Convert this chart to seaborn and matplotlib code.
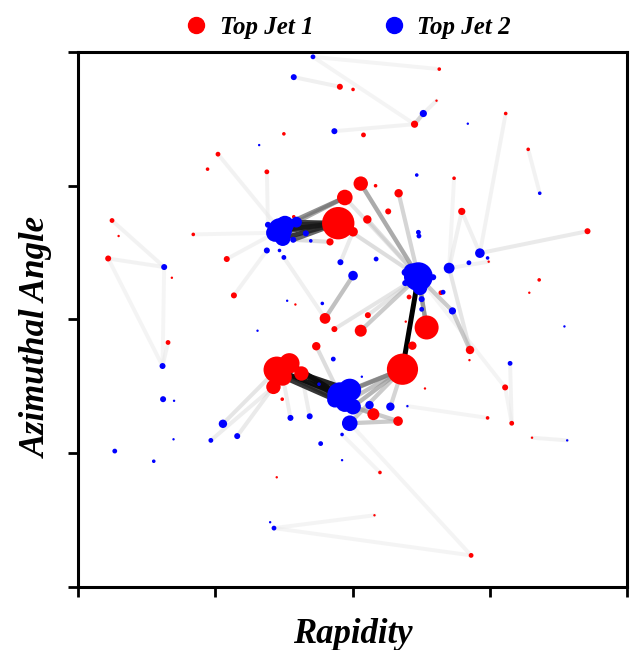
import numpy as np
import pandas as pd
import matplotlib
matplotlib.use("Agg")
import matplotlib.pyplot as plt
from matplotlib.lines import Line2D
import seaborn as sns

# Jet constituents: rapidity / azimuth on a 0-100 scale, pt ~ marker diameter (px)
red_rap = [47.7, 50.1, 37.5, 25.5, 23.6, 34.4, 51.5, 48.6, 47.4, 50.1, 45.9, 39.3, 6.2, 7.4, 21.0, 5.5,
           17.1, 27.1, 28.4, 39.6, 45.0, 65.8, 65.3, 61.3, 77.9, 82.0, 52.0, 68.5, 54.2, 58.4, 56.5, 69.9,
           52.7, 92.8, 74.8, 84.0, 82.2, 60.3, 66.1, 52.8, 63.5, 46.7, 51.5, 59.7, 60.9, 71.4, 71.3, 16.4,
           43.4, 59.1, 63.2, 77.8, 53.8, 58.3, 74.6, 79.0, 82.7, 37.2, 36.2, 55.0, 54.0, 71.6,
           36.2, 38.5, 40.7, 35.6, 37.3]
red_phi = [93.5, 93.0, 84.7, 80.9, 78.1, 77.6, 75.4, 72.8, 68.0, 66.4, 64.5, 69.2, 68.5, 65.6, 65.9, 61.4,
           57.8, 61.3, 54.5, 52.8, 50.2, 96.8, 90.9, 86.5, 88.5, 81.8, 84.5, 76.4, 75.0, 73.6, 70.2, 70.2,
           68.7, 66.5, 60.8, 57.4, 55.0, 54.2, 55.0, 50.8, 48.5, 48.2, 47.9, 49.6, 45.1, 44.3, 42.4, 45.7,
           45.0, 40.7, 37.1, 37.3, 32.3, 31.0, 31.6, 30.6, 27.9, 35.1, 20.5, 21.4, 13.4, 5.9,
           40.6, 41.8, 39.9, 37.4, 39.3]
red_pt = [5, 3, 3, 4, 3, 4, 12, 13, 27, 8, 6, 3, 4, 2, 3, 5,
          2, 5, 5, 2, 9, 3, 2, 6, 3, 3, 4, 3, 3, 7, 5, 6,
          7, 5, 2, 3, 2, 4, 4, 5, 20, 5, 10, 2, 7, 7, 2, 4,
          7, 26, 2, 5, 10, 8, 3, 4, 2, 3, 2, 3, 2, 4,
          22, 17, 12, 12, 15]

blue_rap = [42.8, 39.3, 46.7, 33.0, 62.9, 71.0, 84.1, 61.7,
            36.8, 37.7, 35.9, 37.3, 39.8, 34.6, 39.2, 41.5, 42.4,
            34.4, 36.7, 37.5, 47.8, 50.1, 15.7, 38.1, 44.5, 62.0, 62.1, 73.2, 74.6, 67.6, 71.2,
            62.0, 60.8, 59.6, 64.7, 59.6, 62.3,
            54.3, 66.5, 62.6, 62.6, 68.2, 88.6, 78.7, 32.7, 15.4, 46.5, 43.9, 15.5, 17.5,
            47.7, 49.5, 50.1, 46.8, 48.6, 49.5,
            26.4, 29.0, 24.2, 17.4, 38.7, 42.2, 44.2, 48.1, 48.1, 6.7, 13.8, 35.0, 35.7,
            51.7, 53.1, 56.9, 60.0, 89.1]
blue_phi = [99.1, 95.3, 85.2, 82.6, 88.5, 86.6, 73.6, 77.0,
            66.7, 67.7, 66.2, 65.2, 68.2, 67.7, 64.9, 66.1, 64.7,
            62.9, 62.9, 61.6, 60.7, 58.2, 59.8, 53.5, 53.0, 66.3, 65.6, 62.4, 61.5, 59.6, 60.6,
            58.0, 58.9, 58.8, 57.9, 56.8, 55.9,
            61.3, 55.1, 53.8, 51.9, 51.6, 48.7, 41.8, 47.9, 41.3, 42.6, 37.9, 35.1, 34.8,
            35.9, 36.8, 33.7, 35.0, 34.4, 30.6,
            30.5, 28.2, 27.4, 27.6, 31.6, 31.9, 26.8, 28.5, 23.7, 25.4, 23.5, 12.1, 11.0,
            39.3, 34.0, 33.7, 33.8, 27.4]
blue_pt = [4, 5, 5, 2, 6, 2, 3, 3,
           20, 15, 15, 13, 9, 5, 5, 5, 3,
           5, 3, 4, 5, 8, 5, 2, 3, 4, 4, 8, 3, 9, 4,
           24, 14, 6, 5, 5, 12,
           4, 4, 5, 4, 6, 2, 4, 2, 5, 4, 3, 5, 2,
           21, 19, 13, 13, 15, 13,
           7, 5, 4, 2, 5, 5, 4, 3, 2, 4, 3, 2, 4,
           2, 7, 7, 2, 2]

# graph edges between constituents and their strength (0 = faint, 1 = black)
edge_from = ["b8", "b9", "b11", "b12", "b10", "b14", "b9", "b12", "b14",
             "r6", "r8", "r7", "r29", "r32", "r9", "b0", "b1", "b2", "b4", "b4", "b0",
             "r3", "r5", "r14", "r12", "r15", "r15", "r47", "b22", "r17", "r18", "b19", "b21",
             "r24", "r27", "r31", "r31", "r33", "b29", "r25", "b31", "b43", "r51",
             "b31", "b36", "b31", "b31", "b41", "r42", "r41", "r39", "b29",
             "r62", "r63", "r64", "r63", "r66", "r64", "r62",
             "b51", "b50", "b52", "b54", "b55", "b52", "b55", "b52", "r49",
             "r62", "r65", "r66", "r64", "r48", "r65",
             "b55", "b63", "b68", "b68", "r56", "b72"]
edge_to = ["r8", "r8", "r8", "r8", "r8", "r8", "r7", "r7", "r10",
           "b31", "b31", "b31", "b31", "b31", "b20", "r21", "r0", "r23", "r23", "r22", "r23",
           "b8", "b13", "b10", "b22", "b22", "b45", "b45", "b45", "b10", "b17", "r20", "r20",
           "b27", "b29", "b29", "b27", "b27", "r34", "b6", "r51", "r55", "r55",
           "r40", "r40", "r49", "b41", "r45", "b31", "b31", "b31", "r45",
           "b50", "b50", "b51", "b54", "b53", "b50", "b54",
           "r49", "r49", "r49", "r49", "r49", "r52", "r53", "r53", "b71",
           "b56", "b57", "b60", "b61", "b50", "b58",
           "r61", "r59", "r60", "r61", "b73", "r54"]
edge_w = [0.9, 0.85, 0.85, 0.8, 0.8, 0.7, 0.55, 0.45, 0.2,
          0.45, 0.2, 0.15, 0.25, 0.2, 0.12, 0.05, 0.08, 0.06, 0.25, 0.08, 0.05,
          0.06, 0.06, 0.05, 0.06, 0.06, 0.05, 0.06, 0.04, 0.06, 0.06, 0.08, 0.35,
          0.06, 0.05, 0.08, 0.08, 0.12, 0.06, 0.06, 0.05, 0.06, 0.05,
          0.45, 0.35, 1.0, 0.3, 0.3, 0.3, 0.15, 0.15, 0.15,
          0.95, 0.95, 0.9, 0.9, 0.85, 0.8, 0.8,
          0.5, 0.45, 0.4, 0.35, 0.3, 0.35, 0.3, 0.3, 0.25,
          0.15, 0.12, 0.1, 0.1, 0.2, 0.1,
          0.05, 0.05, 0.05, 0.05, 0.06, 0.05]

red = pd.DataFrame({"name": [f"r{i}" for i in range(len(red_rap))],
                    "rap": red_rap, "phi": red_phi, "pt": red_pt, "jet": "Top Jet 1"})
blue = pd.DataFrame({"name": [f"b{i}" for i in range(len(blue_rap))],
                     "rap": blue_rap, "phi": blue_phi, "pt": blue_pt, "jet": "Top Jet 2"})
pts = pd.concat([red, blue], ignore_index=True)
pts["area"] = (pts["pt"] * 0.72 * 1.2) ** 2
pos = pts.set_index("name")[["rap", "phi"]]

sns.set_style("white")
plt.rcParams["font.family"] = ["Liberation Serif", "DejaVu Serif"]
plt.rcParams["text.color"] = "black"
plt.rcParams["axes.labelcolor"] = "black"

fig = plt.figure(figsize=(6.34, 6.5), dpi=100)
ax = fig.add_axes([0.123, 0.097, 0.866, 0.823])

# edges, faint first so the strong ones sit on top
order = np.argsort(edge_w)
for k in order:
    a, b, w = edge_from[k], edge_to[k], edge_w[k]
    ax.plot([pos.loc[a, "rap"], pos.loc[b, "rap"]], [pos.loc[a, "phi"], pos.loc[b, "phi"]],
            color=str(0.96 * (1 - w)), lw=2.8 + 0.8 * w, alpha=0.45 + 0.55 * w,
            solid_capstyle="round", zorder=1)

amin, amax = pts["area"].min(), pts["area"].max()
sns.scatterplot(data=pts, x="rap", y="phi", hue="jet", size="area",
                palette={"Top Jet 1": "red", "Top Jet 2": "blue"},
                sizes=(amin, amax), size_norm=(amin, amax),
                linewidth=0, legend=False, ax=ax, zorder=2)

ax.set_xlim(0, 100)
ax.set_ylim(0, 100)
ax.set_xticks([0, 25, 50, 75, 100])
ax.set_yticks([0, 25, 50, 75, 100])
ax.set_xticklabels([])
ax.set_yticklabels([])
ax.tick_params(direction="out", length=7, width=2, bottom=True, left=True, color="black")
for sp in ax.spines.values():
    sp.set_linewidth(2.2)
    sp.set_color("black")

lab_font = dict(fontsize=25, fontweight="bold", fontstyle="italic", color="black")
ax.set_xlabel("Rapidity", labelpad=12, **lab_font)
ax.set_ylabel("Azimuthal Angle", **lab_font)
ax.yaxis.set_label_coords(-0.044, 0.467)

handles = [Line2D([], [], marker="o", ls="", color="red", markersize=11.5),
           Line2D([], [], marker="o", ls="", color="blue", markersize=11.5)]
fig.legend(handles, ["Top Jet 1", "Top Jet 2"], loc="center", bbox_to_anchor=(0.548, 0.958),
           ncol=2, frameon=False, columnspacing=2.7, handlelength=1.0, handletextpad=0.45,
           prop=dict(size=18, weight="bold", style="italic"))

fig.savefig("out.png", dpi=100)
